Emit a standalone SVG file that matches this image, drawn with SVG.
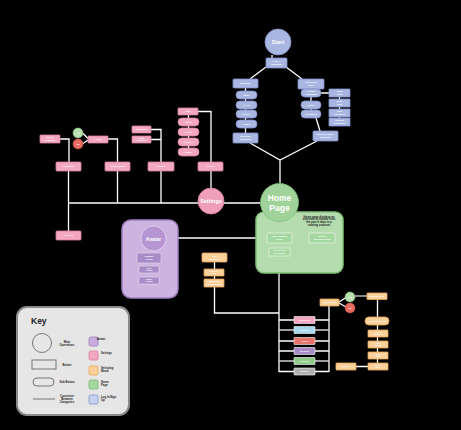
<svg xmlns="http://www.w3.org/2000/svg" width="461" height="430" viewBox="0 0 461 430">
<style>
.bl{fill:#a9b6e2;stroke:#8393cc;stroke-width:0.8}
.pk{fill:#f4a7c1;stroke:#d8829f;stroke-width:0.8}
.or{fill:#fcd09a;stroke:#e9a657;stroke-width:0.8}
.gr{fill:#a5d7a0;stroke:#e6f4e3;stroke-width:0.8}
.pu{fill:#a88cc8;stroke:#e8dcf2;stroke-width:0.6}
.yes{fill:#b6e0ae;stroke:#8cc584;stroke-width:0.6}
.no{fill:#e86a60;stroke:#c9524a;stroke-width:0.6}
.t{font-family:"Liberation Sans",Arial,sans-serif;font-size:2.4px;fill:#fff;font-weight:bold;text-anchor:middle;dominant-baseline:central}
.big{font-family:"Liberation Sans",Arial,sans-serif;fill:#fff;font-weight:bold;text-anchor:middle;dominant-baseline:central}
.k{font-family:"Liberation Sans",Arial,sans-serif;font-size:2.8px;fill:#222;font-weight:bold;text-anchor:middle;dominant-baseline:central}
.c{stroke:#fff;stroke-width:1.3;fill:none}
.cg{stroke:#cfcfcf;stroke-width:1.3;fill:none}
</style>
<rect width="461" height="430" fill="#000"/>

<g id="connectors">
<path class="c" d="M272 55 V58"/>
<path class="c" d="M266 67 L250 79 M286 67 L302 79"/>
<path class="c" d="M245.5 88 V133"/>
<path class="c" d="M311 89 V118 M316 118 L320 131 M321 93 H329 M339.5 97 V118"/>
<path class="c" d="M250 143 L280 160 L317 141 M280 160 V183"/>
<path class="c" d="M60 139 H69 V162"/>
<path class="c" d="M68.5 171 V231"/>
<path class="c" d="M83 133.5 L88 138.5 M83 143.5 L88 140 M108 139 H117.5 V162 M117.5 171 V203"/>
<path class="c" d="M151 129.5 H161 V162 M151 139.5 H161 M161 171 V203"/>
<path class="c" d="M198 111.5 H211 V162 M188.5 115 V148 M211 171 V188"/>
<path class="c" d="M68.5 203 H261"/>
<path class="c" d="M166 238 H267"/>
<path class="c" d="M292 238 H309" stroke-dasharray="3 3"/>
<path class="c" d="M153.5 251 V253 M149 263 V266 M149 273 V277"/>
<path class="c" d="M214.5 262 V269 M214.5 276 V279 M214.5 287 V313 H279"/>
<path class="c" d="M279 222 V372"/>
<path class="c" d="M279 320 H329 M279 341 H329 M279 351 H329 M279 371.5 H329 M329 306 V372"/>
<path class="cg" d="M279 330 H329 M279 361 H329"/>
<path class="c" d="M339 302 L346 297.5 M339 303 L346 307"/>
<path class="cg" d="M355 296 H367"/>
<path class="c" d="M377.5 299.5 V363 M356 366.5 H368"/>
</g>

<g id="start"><circle cx="278" cy="42" r="13" class="bl"/><text x="278" y="42" class="big" font-size="5.5">Start</text></g>
<g id="pick-language"><rect x="266" y="58" width="21" height="10" rx="1" class="bl"/><text x="276.5" y="61.5" class="t">Pick a</text><text x="276.5" y="64.5" class="t">Language</text></g>
<g id="new-user"><rect x="233" y="79" width="25" height="9" rx="1" class="bl"/><text x="245.5" y="83.5" class="t">New User</text></g>
<g id="nu-name"><rect x="236" y="91" width="21" height="8" rx="4" class="bl"/><text x="246.5" y="95" class="t">Name</text></g>
<g id="nu-dob"><rect x="236" y="101" width="21" height="8" rx="4" class="bl"/><text x="246.5" y="105" class="t">D.O.B</text></g>
<g id="nu-phone"><rect x="236" y="110" width="21" height="8" rx="4" class="bl"/><text x="246.5" y="114" class="t">Phone #</text></g>
<g id="nu-email"><rect x="236" y="120" width="21" height="8" rx="4" class="bl"/><text x="246.5" y="124" class="t">Email</text></g>
<g id="welcome"><rect x="233" y="133" width="25" height="10" rx="1" class="bl"/><text x="245.5" y="136.5" class="t">Welcome</text><text x="245.5" y="139.5" class="t">Explainer</text></g>
<g id="returning-user"><rect x="298" y="79" width="26" height="10" rx="1" class="bl"/><text x="311" y="82.5" class="t">Returning</text><text x="311" y="85.5" class="t">User</text></g>
<g id="ru-forgot"><rect x="301" y="89" width="20" height="8" rx="4" class="bl"/><text x="311" y="91.7" class="t">Forgot</text><text x="311" y="94.5" class="t">Password</text></g>
<g id="ru-email"><rect x="301" y="101" width="20" height="8" rx="4" class="bl"/><text x="311" y="105" class="t">Email</text></g>
<g id="ru-password"><rect x="301" y="110" width="20" height="8" rx="4" class="bl"/><text x="311" y="114" class="t">Password</text></g>
<g id="send-code"><rect x="329" y="89" width="21" height="8" rx="0.5" class="bl"/><text x="339.5" y="91.7" class="t">Send</text><text x="339.5" y="94.5" class="t">Code</text></g>
<g id="enter-code"><rect x="329" y="99" width="21" height="8" rx="0.5" class="bl"/><text x="339.5" y="101.7" class="t">Enter</text><text x="339.5" y="104.5" class="t">Code</text></g>
<g id="new-password"><rect x="329" y="109" width="21" height="8" rx="0.5" class="bl"/><text x="339.5" y="111.7" class="t">New</text><text x="339.5" y="114.5" class="t">Password</text></g>
<g id="confirm-password"><rect x="329" y="118" width="21" height="8" rx="0.5" class="bl"/><text x="339.5" y="120.7" class="t">Confirm</text><text x="339.5" y="123.5" class="t">Password</text></g>
<g id="welcome-back"><rect x="313" y="131" width="25" height="10" rx="1" class="bl"/><text x="325.5" y="134.5" class="t">Welcome Back</text><text x="325.5" y="137.5" class="t">Explainer</text></g>

<g id="settings"><circle cx="211" cy="201" r="13" fill="#f09fba" stroke="#d8829f" stroke-width="0.8"/><text x="211" y="201" class="big" font-size="5.5">Settings</text></g>
<g id="language"><rect x="56" y="162" width="25" height="9" rx="1" class="pk"/><text x="68.5" y="166.5" class="t">Language</text></g>
<g id="notifications"><rect x="105" y="162" width="25" height="9" rx="1" class="pk"/><text x="117.5" y="166.5" class="t">Notifications</text></g>
<g id="privacy"><rect x="148" y="162" width="26" height="9" rx="1" class="pk"/><text x="161" y="166.5" class="t">Privacy</text></g>
<g id="profile"><rect x="198" y="162" width="25" height="9" rx="1" class="pk"/><text x="210.5" y="166.5" class="t">Profile</text></g>
<g id="log-out"><rect x="56" y="231" width="25" height="9" rx="1" class="pk"/><text x="68.5" y="235.5" class="t">Log Out</text></g>
<g id="select-language"><rect x="40" y="135" width="20" height="8" rx="0.5" class="pk"/><text x="50" y="137.7" class="t">Select</text><text x="50" y="140.5" class="t">Language</text></g>
<g id="alerts"><rect x="88" y="136" width="20" height="7" rx="0.5" class="pk"/><text x="98" y="139.5" class="t">Alerts</text></g>
<g id="alerts-yes"><circle cx="78" cy="133" r="5" class="yes"/><text x="78" y="133" class="t">Yes</text></g>
<g id="alerts-no"><circle cx="78" cy="144" r="5" class="no"/><text x="78" y="144" class="t">No</text></g>
<g id="incognito"><rect x="132" y="126" width="19" height="7" rx="0.5" class="pk"/><text x="141.5" y="129.5" class="t">Incognito</text></g>
<g id="data-sharing"><rect x="132" y="136" width="19" height="7" rx="0.5" class="pk"/><text x="141.5" y="138.3" class="t">Data</text><text x="141.5" y="140.9" class="t">Sharing</text></g>
<g id="edit"><rect x="178" y="108" width="20" height="7" rx="0.5" class="pk"/><text x="188" y="111.5" class="t">Edit</text></g>
<g id="pr-name"><rect x="178" y="118" width="21" height="8" rx="4" class="pk"/><text x="188.5" y="122" class="t">Name</text></g>
<g id="pr-dob"><rect x="178" y="128" width="21" height="8" rx="4" class="pk"/><text x="188.5" y="132" class="t">D.O.B</text></g>
<g id="pr-phone"><rect x="178" y="138" width="21" height="8" rx="4" class="pk"/><text x="188.5" y="142" class="t">Phone #</text></g>
<g id="pr-email"><rect x="178" y="148" width="21" height="8" rx="4" class="pk"/><text x="188.5" y="152" class="t">Email</text></g>

<g id="home-box"><rect x="256" y="212" width="87" height="61" rx="8" fill="#b5dcae" stroke="#82c07a" stroke-width="1.5"/>
<text x="319" y="216.5" class="k" font-size="2.3">Home page displays an</text><text x="319" y="219.3" class="k" font-size="2.3">overview of moods from</text><text x="319" y="222.1" class="k" font-size="2.3">the past 6 days in a</text><text x="319" y="224.9" class="k" font-size="2.3">rotating carousel</text></g>
<g id="home-page"><circle cx="279.5" cy="202.5" r="19" fill="#9fd39a" stroke="#82c07a" stroke-width="0.8"/><text x="279.5" y="197.5" class="big" font-size="8.5">Home</text><text x="279.5" y="207.5" class="big" font-size="8.5">Page</text></g>
<g id="track-today"><rect x="267" y="233" width="25" height="10" rx="1" class="gr"/><text x="279.5" y="236.5" class="t">Track Today's</text><text x="279.5" y="239.5" class="t">Mood</text></g>
<g id="track-previous"><rect x="309" y="233" width="26" height="10" rx="1" class="gr"/><text x="322" y="236.5" class="t">Track a</text><text x="322" y="239.5" class="t">previous mood</text></g>
<g id="how-feel"><rect x="269" y="248" width="21" height="8" rx="0.5" class="gr"/><text x="279.5" y="250.7" class="t">How do you</text><text x="279.5" y="253.5" class="t">feel today?</text></g>

<g id="avatar-box"><rect x="122" y="220" width="56" height="78" rx="9" fill="#cdb4e0" stroke="#a07fc0" stroke-width="1.5"/></g>
<g id="avatar"><circle cx="153.5" cy="238.5" r="12.5" fill="#b596d2" stroke="#e3d6ef" stroke-width="0.8"/><text x="153.5" y="238.5" class="big" font-size="5">Avatar</text></g>
<g id="change-avatar"><rect x="137" y="253" width="24" height="10" rx="0.5" class="pu"/><text x="149" y="256.5" class="t">Change</text><text x="149" y="259.5" class="t">Avatar</text></g>
<g id="pick-avatar"><rect x="139" y="266" width="20" height="7" rx="0.5" class="pu"/><text x="149" y="268.3" class="t">Pick</text><text x="149" y="270.9" class="t">Avatar</text></g>
<g id="share-avatar"><rect x="139" y="277" width="20" height="7" rx="0.5" class="pu"/><text x="149" y="279.3" class="t">Share</text><text x="149" y="281.9" class="t">Avatar</text></g>

<g id="add-past-mood"><rect x="202" y="253" width="25" height="9" rx="1" class="or"/><text x="214.5" y="256" class="t">Add</text><text x="214.5" y="259" class="t">Past Mood</text></g>
<g id="select-day"><rect x="204" y="269" width="20" height="7" rx="0.5" class="or"/><text x="214" y="271.3" class="t">Select</text><text x="214" y="273.9" class="t">Day</text></g>
<g id="mood-for-day"><rect x="204" y="279" width="20" height="8" rx="0.5" class="or"/><text x="214" y="281.7" class="t">Mood for</text><text x="214" y="284.5" class="t">selected day</text></g>

<g id="mood-happy"><rect x="294" y="316.5" width="21" height="7" rx="0.5" fill="#f4a7c1" stroke="#fff" stroke-width="0.6"/><text x="304.5" y="320" class="t">Happiness</text></g>
<g id="mood-sad"><rect x="294" y="326.5" width="21" height="7" rx="0.5" fill="#a6d8f0" stroke="#fff" stroke-width="0.6"/><text x="304.5" y="330" class="t">Sadness</text></g>
<g id="mood-anger"><rect x="294" y="337.5" width="21" height="7" rx="0.5" fill="#e8736a" stroke="#fff" stroke-width="0.6"/><text x="304.5" y="341" class="t">Anger</text></g>
<g id="mood-surprise"><rect x="294" y="347.5" width="21" height="7" rx="0.5" fill="#a88cc8" stroke="#fff" stroke-width="0.6"/><text x="304.5" y="351" class="t">Surprise</text></g>
<g id="mood-disgust"><rect x="294" y="357.5" width="21" height="7" rx="0.5" fill="#8fcc8a" stroke="#fff" stroke-width="0.6"/><text x="304.5" y="361" class="t">Disgust</text></g>
<g id="mood-neutral"><rect x="294" y="368" width="21" height="7" rx="0.5" fill="#b0b0b0" stroke="#fff" stroke-width="0.6"/><text x="304.5" y="371.5" class="t">Neutral</text></g>

<g id="add-journal"><rect x="320" y="299" width="19" height="7" rx="0.5" class="or"/><text x="329.5" y="302.5" class="t">Add Journal</text></g>
<g id="journal-yes"><circle cx="350" cy="297" r="5" class="yes"/><text x="350" y="297" class="t">Yes</text></g>
<g id="journal-no"><circle cx="350" cy="308" r="5" class="no"/><text x="350" y="308" class="t">No</text></g>
<g id="journal-entry"><rect x="367" y="293" width="20" height="6.5" rx="0.5" class="or"/><text x="377" y="296.3" class="t">Journal Entry</text></g>
<g id="overview-day"><rect x="365" y="317" width="24" height="8" rx="4" class="or"/><text x="377" y="321" class="t">Overview of Day</text></g>
<g id="edit-journal"><rect x="368" y="330" width="20" height="7" rx="0.5" class="or"/><text x="378" y="332.3" class="t">Edit</text><text x="378" y="334.9" class="t">Journal</text></g>
<g id="edit-mood"><rect x="368" y="341" width="20" height="7" rx="0.5" class="or"/><text x="378" y="343.3" class="t">Edit</text><text x="378" y="345.9" class="t">Mood</text></g>
<g id="save-day"><rect x="368" y="352" width="20" height="7" rx="0.5" class="or"/><text x="378" y="354.3" class="t">Save</text><text x="378" y="356.9" class="t">Day</text></g>
<g id="share-day"><rect x="368" y="363" width="20" height="7" rx="0.5" class="or"/><text x="378" y="365.3" class="t">Share</text><text x="378" y="367.9" class="t">Day</text></g>
<g id="cancel"><rect x="336" y="363" width="20" height="7" rx="0.5" class="or"/><text x="346" y="366.5" class="t">Cancel</text></g>

<g id="key">
<rect x="17" y="307" width="112" height="108" rx="10" fill="#e6e6e6" stroke="#8a8a8a" stroke-width="2"/>
<text x="31" y="321" font-family="Liberation Sans,Arial,sans-serif" font-size="8.5" font-weight="bold" fill="#222" dominant-baseline="central">Key</text>
<circle cx="42" cy="343" r="9.5" fill="none" stroke="#777" stroke-width="1"/>
<text x="67" y="341.5" class="k">Main</text><text x="67" y="344.8" class="k">Operations</text>
<rect x="32" y="360" width="24" height="9" fill="none" stroke="#777" stroke-width="1"/>
<text x="67" y="364.5" class="k">Button</text>
<rect x="33" y="378" width="21" height="8" rx="4" fill="none" stroke="#777" stroke-width="1"/>
<text x="67" y="382" class="k">Sub Button</text>
<path d="M33 399 H55" stroke="#777" stroke-width="1"/>
<text x="67" y="395.5" class="k">Connector</text><text x="67" y="398.8" class="k">Between</text><text x="67" y="402.1" class="k">Categories</text>
<rect x="89" y="337" width="9" height="9" rx="1.5" fill="#c7acdc" stroke="#a07fc0" stroke-width="0.8"/>
<text x="101" y="339" class="k" text-anchor="start">Avatar</text>
<rect x="89" y="351" width="9" height="9" rx="1.5" fill="#f4a7c1" stroke="#d8829f" stroke-width="0.8"/>
<text x="101" y="353" class="k" style="text-anchor:start">Settings</text>
<rect x="89" y="366" width="9" height="9" rx="1.5" fill="#fcd09a" stroke="#e9a657" stroke-width="0.8"/>
<text x="101" y="367.5" class="k" style="text-anchor:start">Selecting</text><text x="101" y="370.8" class="k" style="text-anchor:start">Mood</text>
<rect x="89" y="380" width="9" height="9" rx="1.5" fill="#a5d7a0" stroke="#79b973" stroke-width="0.8"/>
<text x="101" y="381.5" class="k" style="text-anchor:start">Home</text><text x="101" y="384.8" class="k" style="text-anchor:start">Page</text>
<rect x="89" y="395" width="9" height="9" rx="1.5" fill="#c5d2f2" stroke="#8393cc" stroke-width="0.8"/>
<text x="101" y="396.5" class="k" style="text-anchor:start">Log In/Sign</text><text x="101" y="399.8" class="k" style="text-anchor:start">Up</text>
</g>
</svg>
